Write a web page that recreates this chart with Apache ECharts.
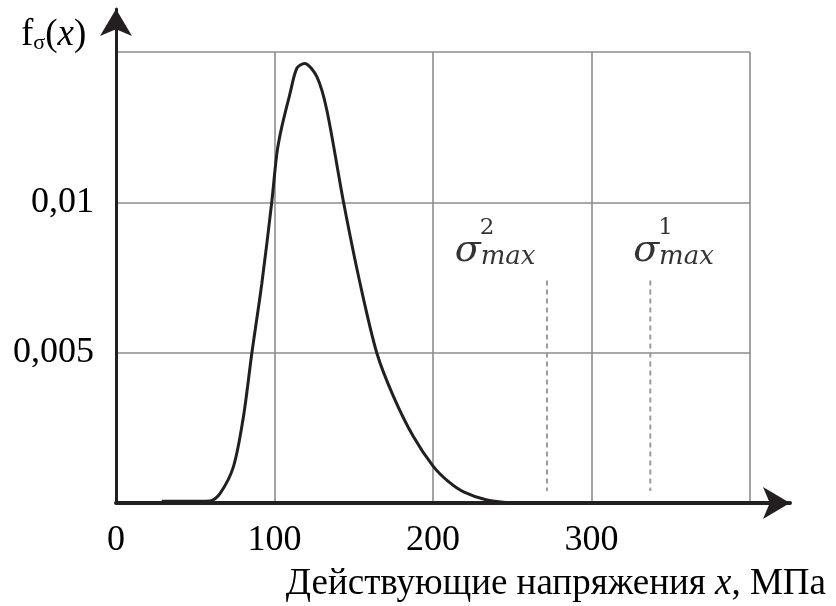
<!DOCTYPE html>
<html>
<head>
<meta charset="utf-8">
<script src="https://cdn.jsdelivr.net/npm/echarts@6/dist/echarts.min.js"></script>
<style>
  html, body { margin: 0; padding: 0; background: #fff; }
  #chart { width: 836px; height: 606px; }
</style>
</head>
<body>
<div id="chart"></div>
<script>
// Stress values x, MPa, and the probability density f_sigma(x) at each of them
const stress = [28.9, 45, 59.3, 65.7, 74.1, 80.4, 85.7, 92.0, 98.3, 101.5, 104.6, 109.8, 114.1, 118.9, 126.7, 133.0, 143.5, 154.0, 164.6, 175.1, 187.7, 200.3, 210, 219.3, 234.0, 250.6, 280, 340, 400];
const density = [0.00006, 0.00006, 0.00007, 0.00032, 0.00121, 0.00287, 0.00498, 0.0073, 0.01002, 0.01163, 0.01251, 0.01362, 0.01446, 0.01462, 0.01418, 0.01307, 0.01002, 0.0073, 0.00498, 0.00354, 0.0022, 0.00121, 0.0007, 0.00037, 0.0001, 0.00001, 0, 0, 0];

// Axis ticks that carry labels
const xTickLabels = [0, 100, 200, 300];
const yTickLabels = [0.005, 0.01];

// Maximum stresses sigma_max^2 and sigma_max^1 (dashed markers)
const limitIndex = ['2', '1'];
const limitStress = [271.9, 337.1];
const limitTop = 0.0074;
const limitBottom = 0.0004;
const limitLabelStress = [214, 326.6];
const limitLabelLevel = 0.00845;

const ink = '#231f20';
const serif = '"Liberation Serif", "Times New Roman", serif';
const mathFont = '"DejaVu Serif", serif';

const chart = echarts.init(document.getElementById('chart'), null, { renderer: 'canvas' });

const near = (v, list) => list.some(t => Math.abs(t - v) < 1e-9);

const series = [
  {
    type: 'line',
    xAxisIndex: 0, yAxisIndex: 0,
    data: stress.map((x, i) => [x, density[i]]),
    smooth: 0.3,
    symbol: 'none',
    clip: false,
    lineStyle: { color: ink, width: 3 },
    z: 5
  }
];

limitStress.forEach(x => {
  series.push({
    type: 'line',
    xAxisIndex: 0, yAxisIndex: 0,
    data: [[x, limitTop], [x, limitBottom]],
    symbol: 'none',
    lineStyle: { color: '#9a9a9a', width: 2, type: [5, 4] },
    z: 3
  });
});

// sigma with "max" subscript
series.push({
  type: 'scatter',
  xAxisIndex: 0, yAxisIndex: 0,
  data: limitLabelStress.map(x => [x, limitLabelLevel]),
  symbolSize: 1,
  itemStyle: { color: 'rgba(0,0,0,0)' },
  silent: true,
  label: {
    show: true,
    position: [0, 0],
    align: 'left',
    verticalAlign: 'middle',
    formatter: '{s|σ}{m|max}',
    rich: {
      s: { fontFamily: mathFont, fontStyle: 'italic', fontSize: 38, color: '#000', verticalAlign: 'bottom', lineHeight: 44 },
      m: { fontFamily: mathFont, fontStyle: 'italic', fontSize: 26, color: '#000', verticalAlign: 'bottom', lineHeight: 42 }
    }
  }
});

// superscript index
series.push({
  type: 'scatter',
  xAxisIndex: 0, yAxisIndex: 0,
  data: limitLabelStress.map((x, i) => ({ value: [x, limitLabelLevel], name: limitIndex[i] })),
  symbolSize: 1,
  itemStyle: { color: 'rgba(0,0,0,0)' },
  silent: true,
  label: {
    show: true,
    position: [0, 0],
    offset: [25, -20],
    align: 'left',
    verticalAlign: 'middle',
    formatter: p => p.name,
    fontFamily: mathFont,
    fontSize: 23,
    color: '#000'
  }
});

const option = {
  animation: false,
  backgroundColor: '#fff',
  title: [
    {
      text: 'f{sub|σ}({i|x})',
      left: 16, top: 12,
      textStyle: {
        fontFamily: serif, fontSize: 37, fontWeight: 'normal', color: '#000',
        rich: {
          sub: { fontFamily: serif, fontSize: 22, color: '#000', verticalAlign: 'bottom', padding: [14, 0, 0, 0] },
          i: { fontFamily: serif, fontSize: 37, fontStyle: 'italic', color: '#000' }
        }
      }
    },
    {
      text: 'Действующие напряжения {i|x}, МПа',
      right: 5, top: 561,
      textStyle: {
        fontFamily: serif, fontSize: 37, fontWeight: 'normal', color: '#000',
        rich: { i: { fontFamily: serif, fontSize: 37, fontStyle: 'italic', color: '#000' } }
      }
    }
  ],
  grid: [
    { left: 116, right: 86, top: 52, bottom: 103 },
    { left: 116, right: 46, top: 9, bottom: 103 }
  ],
  xAxis: [
    {
      type: 'value', gridIndex: 0, min: 0, max: 400, interval: 100,
      axisLine: { show: false }, axisTick: { show: false },
      splitLine: { show: true, lineStyle: { color: '#8c8c8c', width: 1.6 } },
      axisLabel: {
        margin: 20,
        fontFamily: serif, fontSize: 36, color: '#000',
        formatter: v => near(v, xTickLabels) ? String(v) : ''
      }
    },
    {
      type: 'value', gridIndex: 1, min: 0, max: 1,
      axisLine: { show: true, lineStyle: { color: ink, width: 4 }, symbol: ['none', 'arrow'], symbolSize: [24, 27] },
      axisTick: { show: false }, axisLabel: { show: false }, splitLine: { show: false }
    }
  ],
  yAxis: [
    {
      type: 'value', gridIndex: 0, min: 0, max: 0.015, interval: 0.005,
      axisLine: { show: false }, axisTick: { show: false },
      splitLine: { show: true, lineStyle: { color: '#8c8c8c', width: 1.6 } },
      axisLabel: {
        margin: 22,
        fontFamily: serif, fontSize: 36, color: '#000',
        formatter: v => near(v, yTickLabels) ? String(+v.toFixed(4)).replace('.', ',') : ''
      }
    },
    {
      type: 'value', gridIndex: 1, min: 0, max: 1,
      axisLine: { show: true, lineStyle: { color: ink, width: 3 }, symbol: ['none', 'arrow'], symbolSize: [24, 27] },
      axisTick: { show: false }, axisLabel: { show: false }, splitLine: { show: false }
    }
  ],
  series: series
};

chart.setOption(option);
</script>
</body>
</html>
